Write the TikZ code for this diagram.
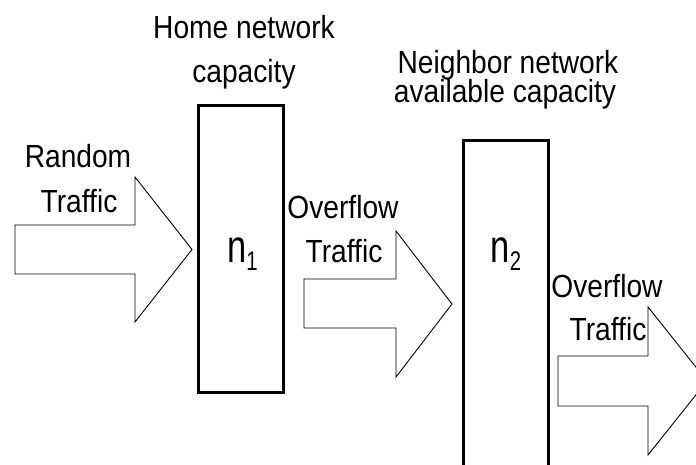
\documentclass[tikz,border=0pt]{standalone}
\usepackage{fontspec}
\setmainfont{Liberation Sans}[FakeStretch=0.88]
\newfontfamily\idxfont{Liberation Sans}[FakeStretch=0.75]
\newcommand{\lowidx}[1]{\raisebox{-8pt}{\idxfont\fontsize{27}{27}\selectfont #1}}

\begin{document}
\begin{tikzpicture}[x = 1pt, y = -1pt]
	\tikzstyle{labelStyle} = [inner sep = 0pt, anchor = base, font = \fontsize{32}{36}\selectfont]
	\tikzstyle{idxStyle} = [inner sep = 0pt, anchor = base, font = \idxfont\fontsize{46}{46}\selectfont]
	\tikzstyle{capBox} = [draw, line width = 3pt, inner sep = 0pt]
	\tikzstyle{flowArrow} = [draw, line width = 0.9pt, fill = white, line join = miter]
	\fill[white] (0,0) rectangle (696,464);
	\clip (0,0) rectangle (696,464);
	% capacity boxes
	\node[capBox, minimum width = 85pt, minimum height = 287pt] (box1) at (240.5,248.5) {};
	\node[capBox, minimum width = 85pt, minimum height = 340pt] (box2) at (505.5,310) {};
	\node[idxStyle] (n1) at (242.5,262) {n\lowidx{1}};
	\node[idxStyle] (n2) at (506,262) {n\lowidx{2}};
	% traffic arrows
	\draw[flowArrow] (15,225) -- (135,225) -- (135,177) -- (192,249.5) -- (135,322) -- (135,274) -- (15,274) -- cycle;
	\draw[flowArrow] (304,279) -- (396,279) -- (396,231) -- (452,304) -- (396,377) -- (396,328) -- (304,328) -- cycle;
	\draw[flowArrow] (558,356) -- (648,356) -- (648,307) -- (707,381) -- (648,455) -- (648,406) -- (558,406) -- cycle;
	% labels
	\node[labelStyle] (home1) at (244,38) {Home network};
	\node[labelStyle] (home2) at (244,82) {capacity};
	\node[labelStyle] (nbr1) at (508,73) {Neighbor network};
	\node[labelStyle] (nbr2) at (505,102) {available capacity};
	\node[labelStyle] (rnd1) at (78,167) {Random};
	\node[labelStyle] (rnd2) at (79,212) {Traffic};
	\node[labelStyle] (ovfA1) at (343,218) {Overflow};
	\node[labelStyle] (ovfA2) at (344,262) {Traffic};
	\node[labelStyle] (ovfB1) at (607,297) {Overflow};
	\node[labelStyle] (ovfB2) at (608,340) {Traffic};
\end{tikzpicture}
\end{document}
